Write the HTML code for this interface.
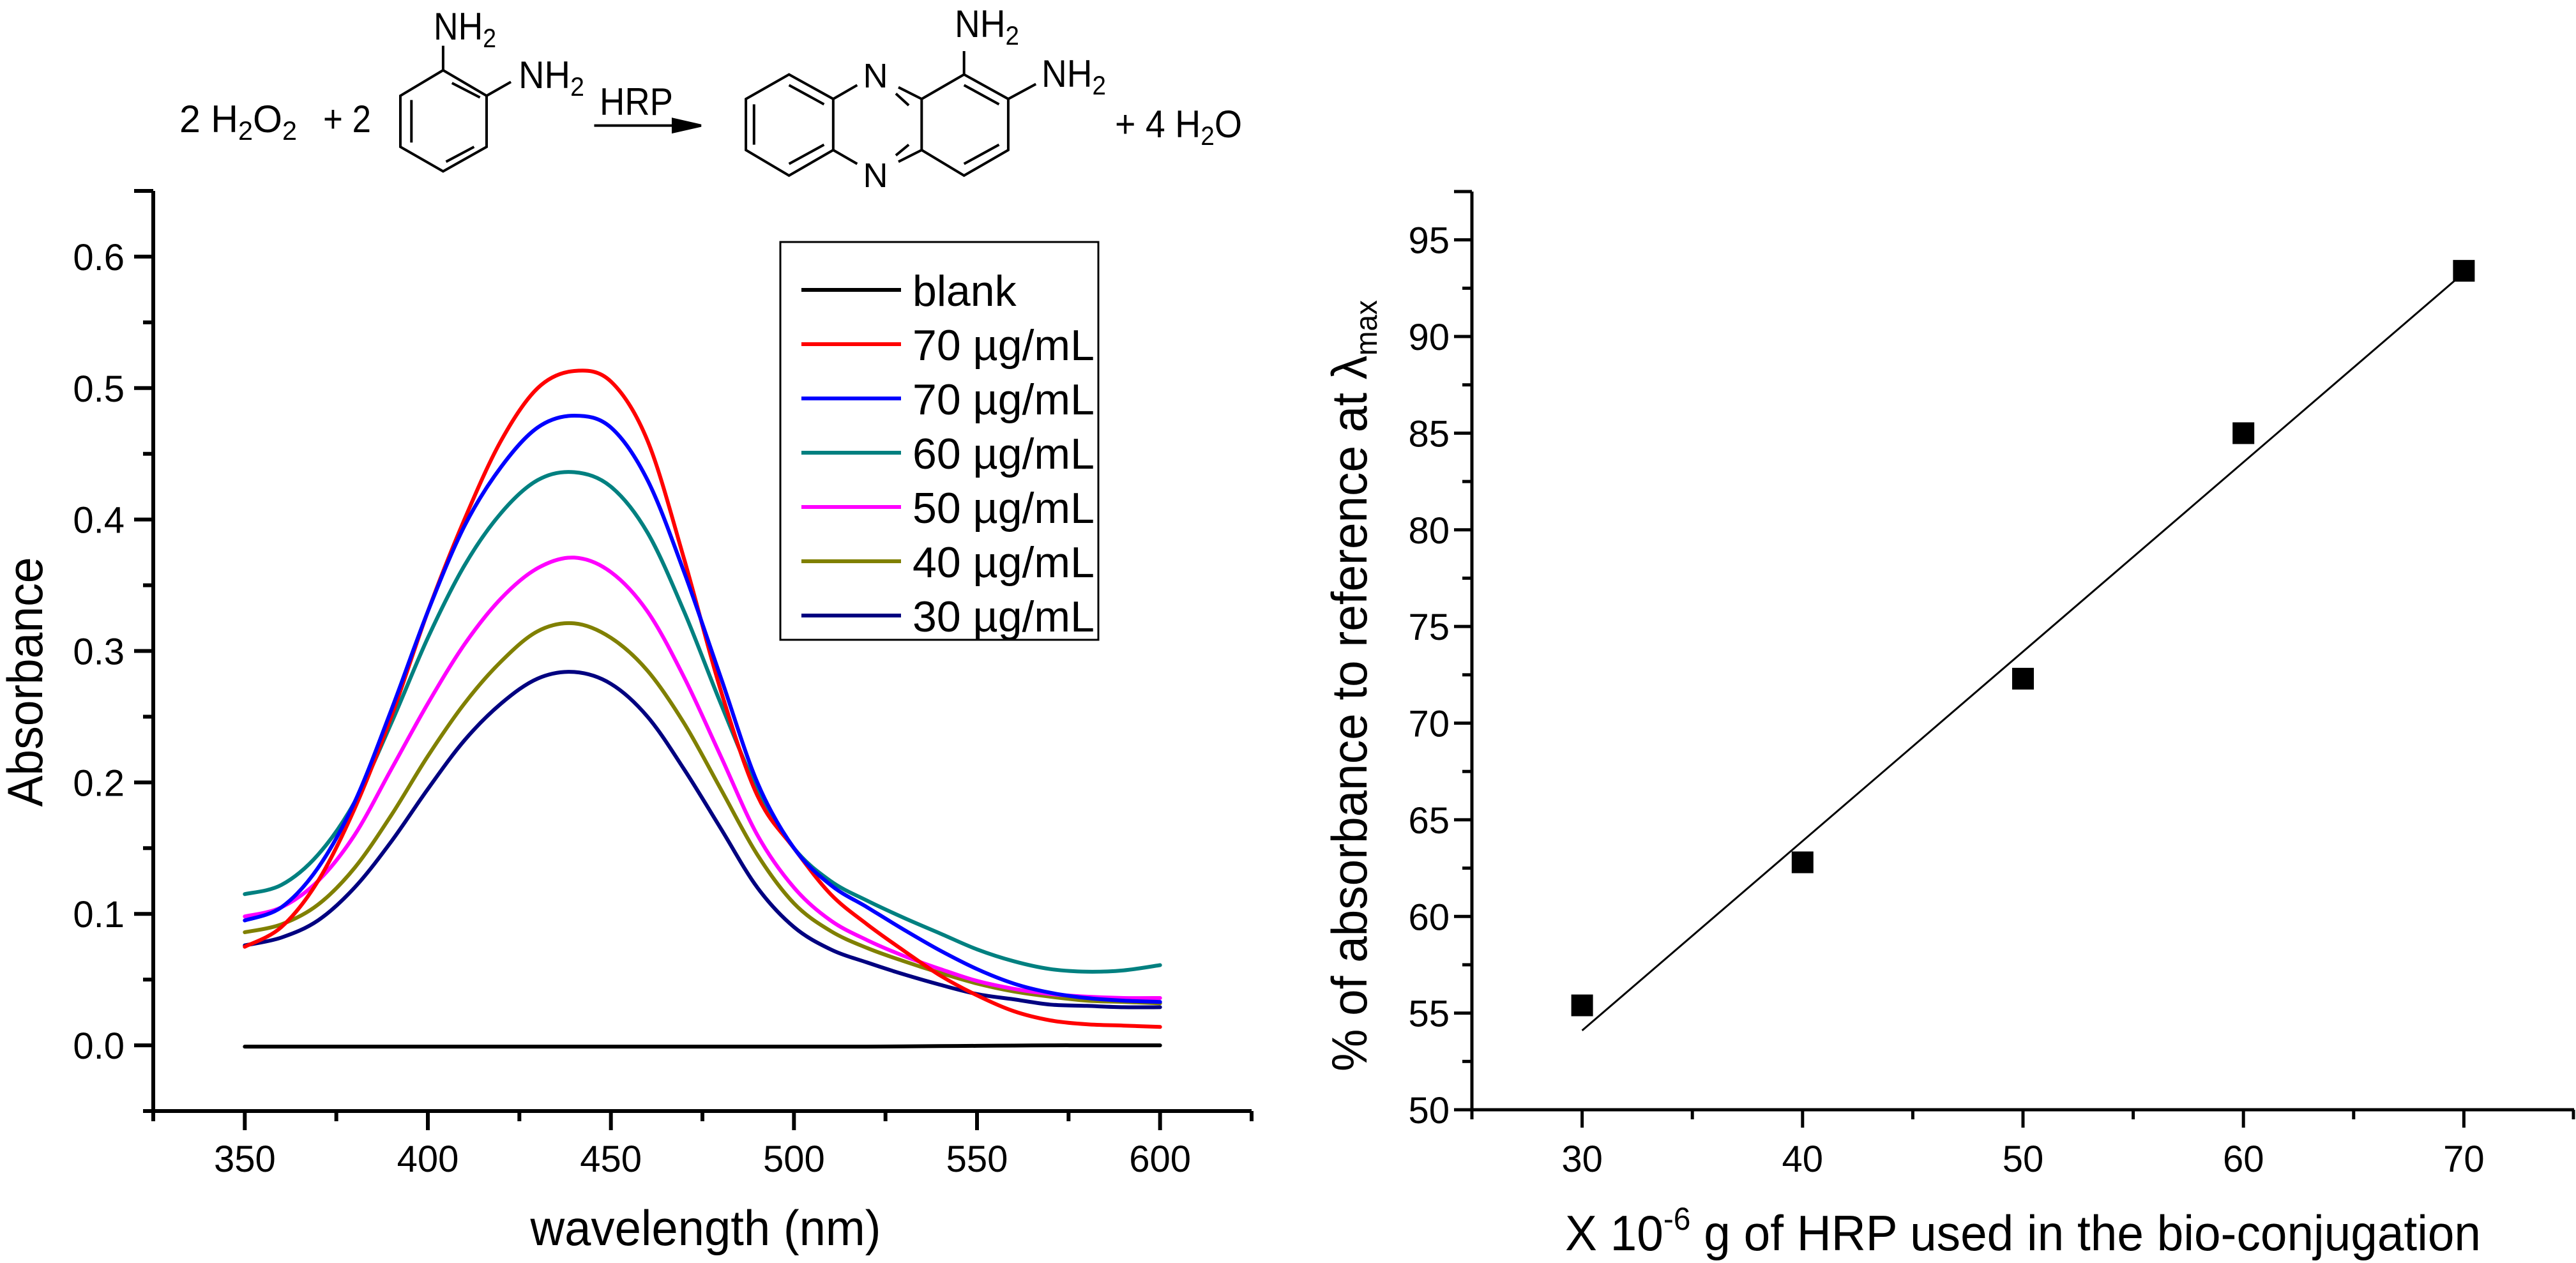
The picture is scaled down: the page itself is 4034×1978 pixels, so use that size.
<!DOCTYPE html>
<html><head><meta charset="utf-8"><title>HRP absorbance</title>
<style>html,body{margin:0;padding:0;background:#fff}svg{display:block}text{font-family:"Liberation Sans",Arial,sans-serif;fill:#000}</style>
</head><body>
<svg id="fig" width="4034" height="1978" viewBox="0 0 4034 1978" xmlns="http://www.w3.org/2000/svg">
<g id="scheme" stroke="#000" stroke-width="4" fill="none">
 <g transform="translate(200,0) scale(1.154,0.3333)">
  <path vector-effect="non-scaling-stroke" d="M428,330 L487,450 L487,690 L428,805 L370,690 L370,450 Z M428,330 L428,215 M487,450 L520,385 M440,390 L478,458 M385,470 L385,670 M470,690 L432,760"/>
  <path vector-effect="non-scaling-stroke" d="M633,590 L760,590"/>
  <path vector-effect="non-scaling-stroke" fill="#000" d="M740,560 L778,590 L740,620 Z"/>
 </g>
 <g transform="translate(1100,0) scale(0.577,0.3333)">
  <path vector-effect="non-scaling-stroke" d="M235,350 L355,465 L355,705 L235,825 L118,705 L118,465 Z M235,400 L330,490 M140,490 L140,680 M330,680 L235,770 M355,465 L420,400 M355,705 L420,770 M532,410 L595,465 M525,440 L560,495 M532,760 L595,705 M525,730 L560,680 M595,465 L710,350 L830,465 L830,705 L710,825 L595,705 Z M710,400 L805,490 M805,680 L710,770 M710,350 L710,240 M830,465 L905,395"/>
 </g>
</g>
<g font-size="60">
 <text x="281" y="207" textLength="184" lengthAdjust="spacingAndGlyphs">2 H<tspan font-size="42" dy="12">2</tspan><tspan dy="-12">O</tspan><tspan font-size="42" dy="12">2</tspan></text>
 <text x="506" y="207" textLength="75" lengthAdjust="spacingAndGlyphs">+ 2</text>
 <text x="679" y="62" textLength="98" lengthAdjust="spacingAndGlyphs">NH<tspan font-size="42" dy="12">2</tspan></text>
 <text x="812" y="138" textLength="103" lengthAdjust="spacingAndGlyphs">NH<tspan font-size="42" dy="12">2</tspan></text>
 <text x="939" y="180" textLength="115" lengthAdjust="spacingAndGlyphs">HRP</text>
 <text x="1371" y="137" font-size="54" text-anchor="middle">N</text>
 <text x="1371" y="293" font-size="54" text-anchor="middle">N</text>
 <text x="1495" y="58" textLength="101" lengthAdjust="spacingAndGlyphs">NH<tspan font-size="42" dy="12">2</tspan></text>
 <text x="1631" y="136" textLength="101" lengthAdjust="spacingAndGlyphs">NH<tspan font-size="42" dy="12">2</tspan></text>
 <text x="1746" y="215" textLength="199" lengthAdjust="spacingAndGlyphs">+ 4 H<tspan font-size="42" dy="12">2</tspan><tspan dy="-12">O</tspan></text>
</g>
<g id="left"></g>
<g id="right"></g>
</svg>
<script>
const wl = [350,360,370,380,390,400,410,420,430,440,450,460,470,480,490,500,510,520,530,540,550,560,570,580,590,600];
const seriesNames = ['70 µg/mL','70 µg/mL','60 µg/mL','50 µg/mL','40 µg/mL','30 µg/mL'];
const seriesColors = ['#ff0000','#0000ff','#008080','#ff00ff','#808000','#000080'];
const blankVals = [-0.001,-0.001,-0.001,-0.001,-0.001,-0.001,-0.001,-0.001,-0.001,-0.001,-0.001,-0.001,-0.001,-0.001,-0.001,-0.001,-0.001,-0.001,-0.0008,-0.0006,-0.0004,-0.0002,0,0,0,0];
const red70 = [0.075,0.09,0.125,0.18,0.25,0.33,0.40,0.46,0.50,0.513,0.505,0.46,0.37,0.27,0.19,0.15,0.115,0.092,0.072,0.053,0.038,0.026,0.019,0.016,0.015,0.014];
const blue70 = [0.095,0.105,0.135,0.185,0.255,0.33,0.395,0.44,0.47,0.479,0.47,0.43,0.36,0.28,0.2,0.15,0.122,0.105,0.088,0.072,0.058,0.047,0.04,0.036,0.034,0.033];
const teal60 = [0.115,0.122,0.145,0.185,0.245,0.31,0.365,0.405,0.43,0.436,0.425,0.39,0.33,0.26,0.195,0.15,0.125,0.11,0.097,0.085,0.073,0.064,0.058,0.056,0.057,0.061];
const mag50 = [0.098,0.105,0.125,0.16,0.21,0.26,0.305,0.34,0.363,0.371,0.36,0.33,0.28,0.22,0.16,0.12,0.095,0.08,0.068,0.058,0.049,0.043,0.039,0.037,0.036,0.036];
const olive40 = [0.086,0.092,0.107,0.135,0.175,0.22,0.26,0.292,0.315,0.321,0.31,0.285,0.245,0.195,0.145,0.108,0.087,0.074,0.064,0.055,0.047,0.041,0.037,0.034,0.033,0.032];
const navy30 = [0.076,0.082,0.095,0.12,0.155,0.195,0.232,0.26,0.279,0.284,0.275,0.25,0.21,0.165,0.12,0.09,0.073,0.063,0.054,0.046,0.039,0.035,0.031,0.03,0.029,0.029];
const leftXTicks = [350,400,450,500,550,600];
const leftYTicks = [0.0,0.1,0.2,0.3,0.4,0.5,0.6];
const hrpX = [30,40,50,60,70];
const hrpY = [55.4,62.8,72.3,85.0,93.4];
const fitLine = [54.1,93.3];
const rightXTicks = [30,40,50,60,70];
const rightYTicks = [50,55,60,65,70,75,80,85,90,95];

const NS='http://www.w3.org/2000/svg';
function mk(parent,tag,attrs,txt){const e=document.createElementNS(NS,tag);for(const k in attrs)e.setAttribute(k,attrs[k]);if(txt!==undefined)e.textContent=txt;parent.appendChild(e);return e;}
function smooth(pts){let d='M'+pts[0][0].toFixed(1)+','+pts[0][1].toFixed(1);for(let i=0;i<pts.length-1;i++){const p0=pts[Math.max(0,i-1)],p1=pts[i],p2=pts[i+1],p3=pts[Math.min(pts.length-1,i+2)];const c1=[p1[0]+(p2[0]-p0[0])/6,p1[1]+(p2[1]-p0[1])/6],c2=[p2[0]-(p3[0]-p1[0])/6,p2[1]-(p3[1]-p1[1])/6];d+=' C'+c1[0].toFixed(1)+','+c1[1].toFixed(1)+' '+c2[0].toFixed(1)+','+c2[1].toFixed(1)+' '+p2[0].toFixed(1)+','+p2[1].toFixed(1);}return d;}

// LEFT CHART
const L=document.getElementById('left');
const lx0=240,lx1=1960,ly0=299,ly1=1740;
const xL=v=>lx0+(v-325)/300*(lx1-lx0);
const yL=v=>ly1-(v+0.05)/0.7*(ly1-ly0);
let e;
e=mk(L,'path',{d:`M${lx0},${ly0} L${lx0},${ly1} L${lx1},${ly1}`,stroke:'#000','stroke-width':6,fill:'none'});


e=mk(L,'line',{x1:lx0-30,y1:ly0,x2:lx0,y2:ly0,stroke:'#000','stroke-width':6});


for(let v=-0.05;v<0.66;v+=0.05){const major=Math.abs(Math.round(v*10)-v*10)<1e-6;const y=yL(v);
 e=mk(L,'line',{x1:lx0-(major?30:16),y1:y,x2:lx0,y2:y,stroke:'#000','stroke-width':6});
 
 }
leftYTicks.forEach(v=>{e=mk(L,'text',{x:195,y:yL(v)+21,'font-size':58,'text-anchor':'end'},v.toFixed(1));
 
 });
for(let v=325;v<=625;v+=25){const major=v%50===0;const x=xL(v);
 e=mk(L,'line',{x1:x,y1:ly1,x2:x,y2:ly1+(major?30:16),stroke:'#000','stroke-width':6});
 
 }
leftXTicks.forEach(v=>{e=mk(L,'text',{x:xL(v),y:1835,'font-size':58,'text-anchor':'middle'},String(v));
 
 });
e=mk(L,'text',{x:1105,y:1950,'font-size':78,'text-anchor':'middle',textLength:549,lengthAdjust:'spacingAndGlyphs'},'wavelength (nm)');


e=mk(L,'text',{x:0,y:0,'font-size':78,'text-anchor':'middle',transform:'translate(66,1068) rotate(-90)',textLength:391,lengthAdjust:'spacingAndGlyphs'},'Absorbance');


const allSeries=[blankVals,red70,blue70,teal60,mag50,olive40,navy30];
const allColors=['#000000'].concat(seriesColors);
const allNames=['blank'].concat(seriesNames);
const drawOrder=[0,6,5,4,3,1,2];
drawOrder.forEach(i=>{const pts=wl.map((w,j)=>[xL(w),yL(allSeries[i][j])]);
 e=mk(L,'path',{d:smooth(pts),stroke:allColors[i],'stroke-width':6,fill:'none','stroke-linecap':'round'});
 
 });
// legend
e=mk(L,'rect',{x:1222,y:379,width:498,height:623,fill:'#fff',stroke:'#000','stroke-width':3});


allNames.forEach((n,i)=>{const y=454+i*85;
 e=mk(L,'line',{x1:1255,y1:y,x2:1411,y2:y,stroke:allColors[i],'stroke-width':6});
 
 
 e=mk(L,'text',{x:1429,y:y+25,'font-size':68},n);
 
 });

// RIGHT CHART
const R=document.getElementById('right');
const rx0=2305,rx1=4031,ry0=300,ry1=1738;
const xR=v=>rx0+(v-25)/50*(rx1-rx0);
const yR=v=>ry1-(v-50)/47.5*(ry1-ry0);
e=mk(R,'path',{d:`M${rx0},${ry0} L${rx0},${ry1} L${rx1},${ry1}`,stroke:'#000','stroke-width':5,fill:'none'});


e=mk(R,'line',{x1:rx0-28,y1:ry0,x2:rx0,y2:ry0,stroke:'#000','stroke-width':5});


for(let v=50;v<=97.5;v+=2.5){const major=v%5===0;const y=yR(v);
 e=mk(R,'line',{x1:rx0-(major?28:15),y1:y,x2:rx0,y2:y,stroke:'#000','stroke-width':5});
 
 }
rightYTicks.forEach(v=>{e=mk(R,'text',{x:2270,y:yR(v)+21,'font-size':58,'text-anchor':'end'},String(v));
 
 });
for(let v=25;v<=75;v+=5){const major=v%10===0;const x=Math.min(xR(v),4030);
 e=mk(R,'line',{x1:x,y1:ry1,x2:x,y2:ry1+(major?28:15),stroke:'#000','stroke-width':5});
 
 }
rightXTicks.forEach(v=>{e=mk(R,'text',{x:xR(v),y:1835,'font-size':58,'text-anchor':'middle'},String(v));
 
 });
e=mk(R,'text',{x:2451,y:1958,'font-size':78,textLength:1434,lengthAdjust:'spacingAndGlyphs'});
e.innerHTML='X 10<tspan font-size="50" dy="-32">-6</tspan><tspan dy="32"> g of HRP used in the bio-conjugation</tspan>';


e=mk(R,'text',{x:0,y:0,'font-size':78,'text-anchor':'middle',transform:'translate(2140,1074) rotate(-90)',textLength:1208,lengthAdjust:'spacingAndGlyphs'});
e.innerHTML='% of absorbance to reference at λ<tspan font-size="48" dy="16">max</tspan>';


e=mk(R,'line',{x1:xR(hrpX[0]),y1:yR(fitLine[0]),x2:xR(hrpX[hrpX.length-1]),y2:yR(fitLine[1]),stroke:'#000','stroke-width':3});


hrpX.forEach((v,i)=>{e=mk(R,'rect',{x:xR(v)-17,y:yR(hrpY[i])-17,width:34,height:34,fill:'#000'});
 
 });
</script>
</body></html>
